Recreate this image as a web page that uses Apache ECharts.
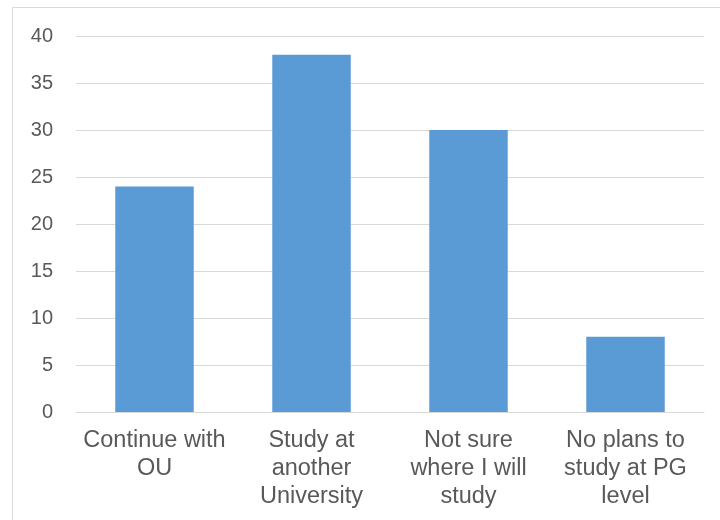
<!DOCTYPE html>
<html><head><meta charset="utf-8">
<script src="https://cdn.jsdelivr.net/npm/echarts@6/dist/echarts.min.js"></script>
<style>html,body{margin:0;padding:0;background:#fff}#c{width:720px;height:520px}</style>
</head><body><div id="c"></div>
<script>
const categories = ['Continue with\nOU', 'Study at\nanother\nUniversity', 'Not sure\nwhere I will\nstudy', 'No plans to\nstudy at PG\nlevel'];
const values = [24, 38, 30, 8];
const yTicks = {min: 0, max: 40, interval: 5};

const chart = echarts.init(document.getElementById('c'));
chart.setOption({
  animation: false,
  graphic: [{type: 'rect', shape: {x: 12.5, y: 7.5, width: 720, height: 520}, style: {fill: 'none', stroke: '#d9d9d9', lineWidth: 1}, silent: true}],
  grid: {left: 76, right: 16, top: 36, bottom: 108},
  xAxis: {
    type: 'category', data: categories,
    axisLine: {lineStyle: {color: '#d9d9d9', width: 1}},
    axisTick: {show: false},
    axisLabel: {color: '#595959', fontFamily: 'Liberation Sans, Arial', fontSize: 23.5, lineHeight: 28, margin: 15, interval: 0}
  },
  yAxis: {
    type: 'value', min: yTicks.min, max: yTicks.max, interval: yTicks.interval,
    axisLine: {show: false}, axisTick: {show: false},
    splitLine: {lineStyle: {color: '#d9d9d9', width: 1}},
    axisLabel: {color: '#595959', fontFamily: 'Liberation Sans, Arial', fontSize: 20, margin: 23}
  },
  series: [{type: 'bar', data: values, barWidth: '50%', itemStyle: {color: '#5B9BD5'}}]
});
</script></body></html>
